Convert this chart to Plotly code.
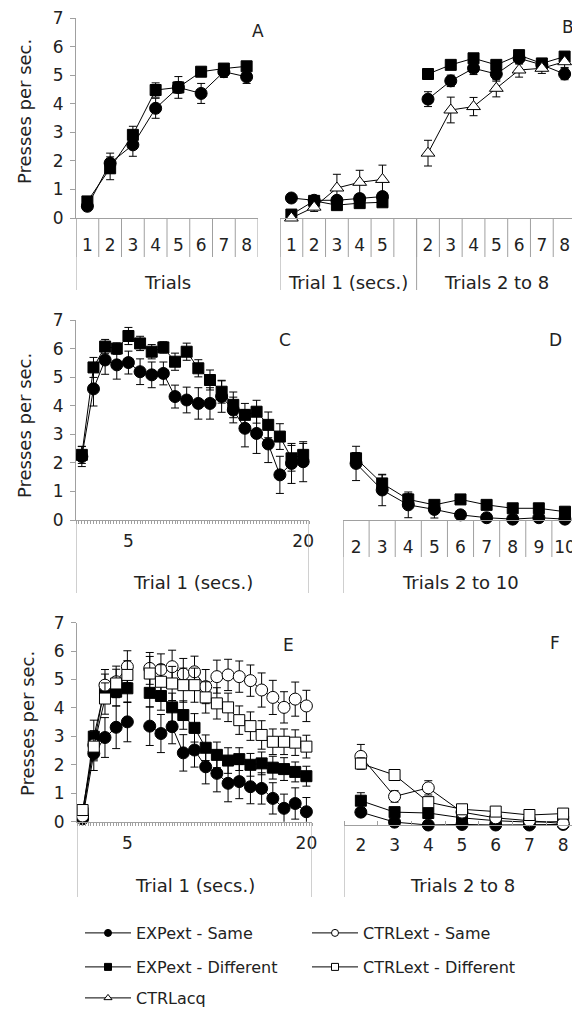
import plotly.graph_objects as go

PAGE_W, PAGE_H = 580, 1012
OFF = 8                      # browser body margin
W, H = PAGE_W - OFF, PAGE_H - OFF
GRAY = "#a0a0a0"
TXT = "#222222"
FONT = "DejaVu Sans, Liberation Sans, Arial, sans-serif"

# ---------------- data ----------------
# Panel A : acquisition, trials 1-8
A_trials = ["1", "2", "3", "4", "5", "6", "7", "8"]
A_exp_same = [0.41, 1.92, 2.56, 3.84, 4.57, 4.36, 5.12, 4.94]
A_exp_same_se = [0.15, 0.35, 0.40, 0.35, 0.38, 0.35, 0.20, 0.23]
A_exp_diff = [0.58, 1.74, 2.91, 4.48, 4.57, 5.12, 5.23, 5.31]
A_exp_diff_se = [0.12, 0.40, 0.30, 0.25, 0.20, 0.15, 0.15, 0.15]

# Panel B : trial 1 (secs 1-5), blank, trials 2-8
B_cats = ["1", "2", "3", "4", "5", "", "2", "3", "4", "5", "6", "7", "8"]
B_groups = ["Trial 1 (secs.)", "Trials 2 to 8"]
B_group_sizes = [6, 7]
B_exp_same = [0.70, 0.62, 0.62, 0.68, 0.75, None, 4.16, 4.80, 5.24, 5.04, 5.59, 5.36, 5.04]
B_exp_same_se = [0.05, 0.10, 0.12, 0.12, 0.12, None, 0.26, 0.20, 0.22, 0.25, 0.20, 0.15, 0.20]
B_exp_diff = [0.12, 0.60, 0.45, 0.52, 0.55, None, 5.04, 5.36, 5.59, 5.36, 5.70, 5.41, 5.65]
B_exp_diff_se = [0.10, 0.12, 0.15, 0.15, 0.15, None, 0.15, 0.15, 0.15, 0.15, 0.15, 0.15, 0.15]
B_ctrl_acq = [0.0, 0.38, 1.05, 1.25, 1.35, None, 2.27, 3.78, 3.90, 4.54, 5.18, 5.24, 5.47]
B_ctrl_acq_se = [0.05, 0.15, 0.48, 0.42, 0.50, None, 0.45, 0.45, 0.32, 0.30, 0.25, 0.18, 0.20]

# Panel C : extinction trial 1, seconds 1-20
C_secs = [str(s) for s in range(1, 21)]
C_labels_shown = ["5", "20"]
C_exp_same = [2.22, 4.59, 5.60, 5.43, 5.51, 5.19, 5.08, 5.13, 4.32, 4.20,
              4.08, 4.08, 4.32, 3.85, 3.21, 3.03, 2.66, 1.58, 1.98, 2.04]
C_exp_same_se = [0.35, 0.60, 0.50, 0.50, 0.40, 0.45, 0.45, 0.40, 0.40, 0.45,
                 0.55, 0.55, 0.55, 0.45, 0.65, 0.70, 0.65, 0.65, 0.70, 0.70]
C_exp_diff = [2.28, 5.34, 6.07, 6.00, 6.44, 6.18, 5.89, 6.04, 5.54, 5.89,
              5.31, 4.90, 4.49, 4.03, 3.68, 3.79, 3.33, 2.92, 2.16, 2.28]
C_exp_diff_se = [0.30, 0.35, 0.25, 0.20, 0.30, 0.25, 0.25, 0.20, 0.30, 0.30,
                 0.30, 0.35, 0.40, 0.45, 0.40, 0.40, 0.45, 0.45, 0.45, 0.40]

# Panel D : extinction trials 2-10
D_trials = ["2", "3", "4", "5", "6", "7", "8", "9", "10"]
D_exp_same = [1.98, 1.05, 0.53, 0.37, 0.18, 0.08, 0.03, 0.08, 0.03]
D_exp_same_se = [0.60, 0.55, 0.45, 0.30, 0.15, 0.10, 0.10, 0.10, 0.10]
D_exp_diff = [2.16, 1.28, 0.72, 0.53, 0.72, 0.53, 0.41, 0.41, 0.29]
D_exp_diff_se = [0.20, 0.30, 0.20, 0.15, 0.15, 0.15, 0.15, 0.15, 0.15]

# Panel E : test trial 1, seconds (blank slot after 5 s)
E_secs = ["1", "2", "3", "4", "5", "", "6", "7", "8", "9", "10", "11", "12",
          "13", "14", "15", "16", "17", "18", "19", "20"]
E_labels_shown = ["5", "20"]
E_exp_same = [0.10, 2.40, 2.96, 3.32, 3.51, None, 3.36, 3.10, 3.34, 2.42, 2.52,
              1.93, 1.70, 1.35, 1.41, 1.23, 1.17, 0.82, 0.47, 0.64, 0.35]
E_exp_same_se = [0.10, 0.60, 0.70, 0.75, 0.70, None, 0.68, 0.67, 0.60, 0.64, 0.60,
                 0.60, 0.65, 0.65, 0.60, 0.60, 0.55, 0.55, 0.50, 0.55, 0.50]
E_exp_diff = [0.30, 2.99, 4.69, 4.57, 4.69, None, 4.53, 4.42, 4.02, 3.75, 3.30,
              2.60, 2.35, 2.15, 2.20, 2.00, 2.05, 1.90, 1.85, 1.75, 1.60]
E_exp_diff_se = [0.10, 0.58, 0.50, 0.50, 0.50, None, 0.50, 0.50, 0.50, 0.50, 0.50,
                 0.45, 0.45, 0.45, 0.40, 0.40, 0.40, 0.40, 0.40, 0.35, 0.35]
E_ctrl_same = [0.20, 2.70, 4.80, 4.92, 5.45, None, 5.39, 5.35, 5.45, 5.19, 5.27,
               4.75, 5.10, 5.16, 5.10, 4.96, 4.63, 4.37, 4.02, 4.31, 4.07]
E_ctrl_same_se = [0.10, 0.50, 0.55, 0.55, 0.56, None, 0.56, 0.55, 0.58, 0.55, 0.55,
                  0.60, 0.58, 0.55, 0.55, 0.55, 0.60, 0.60, 0.55, 0.60, 0.55]
E_ctrl_diff = [0.41, 2.64, 4.33, 4.86, 5.16, None, 5.21, 4.92, 4.86, 4.80, 4.80,
               4.37, 4.16, 4.02, 3.57, 3.36, 3.05, 2.81, 2.81, 2.78, 2.64]
E_ctrl_diff_se = [0.10, 0.50, 0.55, 0.50, 0.50, None, 0.60, 0.60, 0.60, 0.60, 0.60,
                  0.55, 0.55, 0.50, 0.50, 0.50, 0.50, 0.45, 0.45, 0.45, 0.40]

# Panel F : test trials 2-8
F_trials = ["2", "3", "4", "5", "6", "7", "8"]
F_exp_same = [0.45, 0.10, 0.00, 0.02, 0.00, 0.00, 0.02]
F_exp_same_se = [0.10, 0.05, 0.05, 0.05, 0.05, 0.05, 0.05]
F_exp_diff = [0.85, 0.45, 0.42, 0.25, 0.15, 0.10, 0.12]
F_exp_diff_se = [0.28, 0.15, 0.15, 0.10, 0.10, 0.10, 0.10]
F_ctrl_same = [2.40, 1.00, 1.30, 0.45, 0.25, 0.15, 0.05]
F_ctrl_same_se = [0.42, 0.20, 0.25, 0.10, 0.10, 0.10, 0.10]
F_ctrl_diff = [2.15, 1.75, 0.80, 0.55, 0.47, 0.35, 0.40]
F_ctrl_diff_se = [0.20, 0.15, 0.15, 0.10, 0.10, 0.10, 0.10]

Y_TICKS = [0, 1, 2, 3, 4, 5, 6, 7]
Y_TITLE = "Presses per sec."

# ---------------- styles ----------------
STY = {
    "EXPext - Same": dict(symbol="circle", fill="black", size=12),
    "EXPext - Different": dict(symbol="square", fill="black", size=11),
    "CTRLext - Same": dict(symbol="circle", fill="white", size=12),
    "CTRLext - Different": dict(symbol="square", fill="white", size=11),
    "CTRLacq": dict(symbol="triangle-up", fill="white", size=12),
}

# panel geometry in page pixels (left, right), (top, bottom)
PANELS = {
    "A": dict(n=1, xd=(76, 258), yd=(18, 218), xr=[0.5, 8.5], yaxis=True, so=12),
    "B": dict(n=2, xd=(280, 576), yd=(18, 218), xr=[0.5, 13.5], yaxis=False, so=12),
    "C": dict(n=3, xd=(76, 309), yd=(320, 520), xr=[0.5, 20.5], yaxis=True, so=6),
    "D": dict(n=4, xd=(343, 578), yd=(320, 520), xr=[1.5, 10.5], yaxis=False, so=12),
    "E": dict(n=5, xd=(77, 312), yd=(622.6, 821.7), xr=[0.5, 21.5], yaxis=True, so=6),
    "F": dict(n=6, xd=(344, 580), yd=(625, 825), xr=[1.5, 8.5], yaxis=False, so=5),
}


def px_x(p):
    return (p - OFF) / W


def px_y(p):
    return 1 - (p - OFF) / H


def ax_ids(n):
    s = "" if n == 1 else str(n)
    return "x" + s, "y" + s, "xaxis" + s, "yaxis" + s


fig = go.Figure()


def add_series(panel, name, cats, y, se, first_pos=1):
    n = PANELS[panel]["n"]
    xa, ya, _, _ = ax_ids(n)
    st = STY[name]
    xs = list(range(first_pos, first_pos + len(cats)))
    fig.add_trace(go.Scatter(
        x=xs, y=y, xaxis=xa, yaxis=ya, mode="lines+markers", name=name,
        line=dict(color="black", width=1),
        marker=dict(symbol=st["symbol"], size=st["size"], color=st["fill"],
                    line=dict(color="black", width=1)),
        error_y=dict(type="data", array=se, visible=True, color="black",
                     thickness=1, width=4),
        connectgaps=False, cliponaxis=False, showlegend=False, hoverinfo="skip"))


add_series("A", "EXPext - Same", A_trials, A_exp_same, A_exp_same_se)
add_series("A", "EXPext - Different", A_trials, A_exp_diff, A_exp_diff_se)

add_series("B", "EXPext - Same", B_cats, B_exp_same, B_exp_same_se)
add_series("B", "EXPext - Different", B_cats, B_exp_diff, B_exp_diff_se)
add_series("B", "CTRLacq", B_cats, B_ctrl_acq, B_ctrl_acq_se)

add_series("C", "EXPext - Same", C_secs, C_exp_same, C_exp_same_se)
add_series("C", "EXPext - Different", C_secs, C_exp_diff, C_exp_diff_se)

add_series("D", "EXPext - Same", D_trials, D_exp_same, D_exp_same_se, first_pos=2)
add_series("D", "EXPext - Different", D_trials, D_exp_diff, D_exp_diff_se, first_pos=2)

add_series("E", "EXPext - Same", E_secs, E_exp_same, E_exp_same_se)
add_series("E", "EXPext - Different", E_secs, E_exp_diff, E_exp_diff_se)
add_series("E", "CTRLext - Same", E_secs, E_ctrl_same, E_ctrl_same_se)
add_series("E", "CTRLext - Different", E_secs, E_ctrl_diff, E_ctrl_diff_se)

add_series("F", "EXPext - Same", F_trials, F_exp_same, F_exp_same_se, first_pos=2)
add_series("F", "EXPext - Different", F_trials, F_exp_diff, F_exp_diff_se, first_pos=2)
add_series("F", "CTRLext - Same", F_trials, F_ctrl_same, F_ctrl_same_se, first_pos=2)
add_series("F", "CTRLext - Different", F_trials, F_ctrl_diff, F_ctrl_diff_se, first_pos=2)

# legend-only entries (three rows)
LEGEND_ROWS = [["EXPext - Same", "CTRLext - Same"],
               ["EXPext - Different", "CTRLext - Different"],
               ["CTRLacq"]]
for r, row in enumerate(LEGEND_ROWS):
    for name in row:
        st = STY[name]
        fig.add_trace(go.Scatter(
            x=[None], y=[None], mode="lines+markers", name=name,
            legend="legend" if r == 0 else "legend%d" % (r + 1),
            line=dict(color="black", width=1),
            marker=dict(symbol=st["symbol"], size=7, color=st["fill"],
                        line=dict(color="black", width=1)),
            showlegend=True, hoverinfo="skip"))

# ---------------- axes ----------------
layout = dict(
    template="none",
    width=W, height=H, margin=dict(l=0, r=0, t=0, b=0, autoexpand=False),
    paper_bgcolor="white", plot_bgcolor="white",
    font=dict(family=FONT, size=17, color=TXT),
    showlegend=True,
)

tick_sets = {
    "A": (list(range(1, 9)), A_trials),
    "B": (list(range(1, 14)), B_cats),
    "C": ([i + 1 for i, c in enumerate(C_secs) if c in C_labels_shown], C_labels_shown),
    "D": (list(range(2, 11)), D_trials),
    "E": ([i + 1 for i, c in enumerate(E_secs) if c in E_labels_shown], E_labels_shown),
    "F": (list(range(2, 9)), F_trials),
}

for key, p in PANELS.items():
    xa, ya, xk, yk = ax_ids(p["n"])
    tv, tt = tick_sets[key]
    xax = dict(domain=[px_x(p["xd"][0]), px_x(p["xd"][1])], range=p["xr"],
               anchor=ya, showline=True, linecolor=GRAY, linewidth=1,
               showgrid=False, zeroline=False, ticks="", tickmode="array",
               tickvals=tv, ticktext=tt, tickfont=dict(size=17, color=TXT),
               ticklabelstandoff=p["so"], ticklabeloverflow="allow",
               automargin=False, fixedrange=True)
    if key in ("C", "E"):
        xax["minor"] = dict(tickmode="linear", tick0=0.5, dtick=0.25,
                            ticks="outside", ticklen=3, tickcolor=GRAY, showgrid=False)
    if key == "F":
        xax["minor"] = dict(tickmode="linear", tick0=1.5, dtick=1,
                            ticks="inside", ticklen=4, tickcolor=GRAY, showgrid=False)
    yax = dict(domain=[px_y(p["yd"][1]), px_y(p["yd"][0])], range=[0, 7],
               anchor=xa, showgrid=False, zeroline=False, automargin=False,
               fixedrange=True)
    if p["yaxis"]:
        yax.update(showline=True, linecolor=GRAY, linewidth=1, ticks="outside",
                   ticklen=5, tickcolor=GRAY, tickmode="array", tickvals=Y_TICKS,
                   ticklabelstandoff=3, ticklabeloverflow="allow",
                   tickfont=dict(size=17, color=TXT))
    else:
        yax.update(visible=False)
    layout[xk] = xax
    layout[yk] = yax

# ---------------- category-table lines ----------------
shapes = []


def vline(xref, xv, top_px, bot_px):
    shapes.append(dict(type="line", xref=xref, yref="paper", x0=xv, x1=xv,
                       y0=px_y(top_px), y1=px_y(bot_px),
                       line=dict(color=GRAY, width=1)))


# A
xA = ax_ids(1)[0]
for i in range(len(A_trials) + 1):
    vline(xA, 0.5 + i, 218, 257)
vline(xA, 0.5, 218, 290)
# B
xB = ax_ids(2)[0]
for i in range(len(B_cats) + 1):
    vline(xB, 0.5 + i, 218, 257)
edge = 0.5
vline(xB, edge, 218, 290)
for g in B_group_sizes:
    edge += g
    vline(xB, edge, 218, 290)
# C
xC = ax_ids(3)[0]
vline(xC, PANELS["C"]["xr"][0], 520, 593)
vline(xC, PANELS["C"]["xr"][1], 520, 593)
# D
xD = ax_ids(4)[0]
for i in range(len(D_trials) + 1):
    vline(xD, 1.5 + i, 520, 557)
vline(xD, 1.5, 520, 593)
# E
xE = ax_ids(5)[0]
vline(xE, PANELS["E"]["xr"][0], 822, 897)
vline(xE, PANELS["E"]["xr"][1], 822, 897)
# F
xF = ax_ids(6)[0]
vline(xF, 1.5, 825, 897)

layout["shapes"] = shapes

# ---------------- text ----------------
ann = []


def text_data(t, xref, xv, y_px, size=18):
    ann.append(dict(text=t, xref=xref, yref="paper", x=xv, y=px_y(y_px),
                    xanchor="center", yanchor="middle", showarrow=False,
                    font=dict(size=size, color=TXT, family=FONT)))


def text_px(t, x_px, y_px, size=17, angle=0, xanchor="center"):
    ann.append(dict(text=t, xref="paper", yref="paper", x=px_x(x_px), y=px_y(y_px),
                    xanchor=xanchor, yanchor="middle", showarrow=False, textangle=angle,
                    font=dict(size=size, color=TXT, family=FONT)))


text_data("Trials", xA, (len(A_trials) + 1) / 2, 282)
text_data(B_groups[0], xB, 0.5 + B_group_sizes[0] / 2, 282)
text_data(B_groups[1], xB, 0.5 + B_group_sizes[0] + B_group_sizes[1] / 2, 282)
text_data("Trial 1 (secs.)", xC, sum(PANELS["C"]["xr"]) / 2, 582)
text_data("Trials 2 to 10", xD, sum(PANELS["D"]["xr"]) / 2, 582)
text_data("Trial 1 (secs.)", xE, sum(PANELS["E"]["xr"]) / 2, 885)
text_data("Trials 2 to 8", xF, sum(PANELS["F"]["xr"]) / 2, 885)

text_px(Y_TITLE, 24, 112, size=18, angle=-90)
text_px(Y_TITLE, 24, 426, size=18, angle=-90)
text_px(Y_TITLE, 27, 724, size=18, angle=-90)

for lab, (xp, yp) in {"A": (258, 31), "C": (285, 340),
                      "D": (555, 340), "E": (288, 645), "F": (555, 643)}.items():
    text_px(lab, xp, yp, size=17)
text_px("B", 576, 27, size=17, xanchor="right")

layout["annotations"] = ann

# ---------------- legends ----------------
for r, ypx in enumerate([933, 967, 998]):
    key = "legend" if r == 0 else "legend%d" % (r + 1)
    layout[key] = dict(orientation="h", x=px_x(80), xanchor="left", y=px_y(ypx),
                       yanchor="middle", entrywidth=166, entrywidthmode="pixels",
                       itemwidth=46, font=dict(size=16, color=TXT, family=FONT),
                       bgcolor="rgba(0,0,0,0)", itemclick=False, itemdoubleclick=False,
                       traceorder="normal")

fig.update_layout(**layout)
fig.write_html("out.html")
